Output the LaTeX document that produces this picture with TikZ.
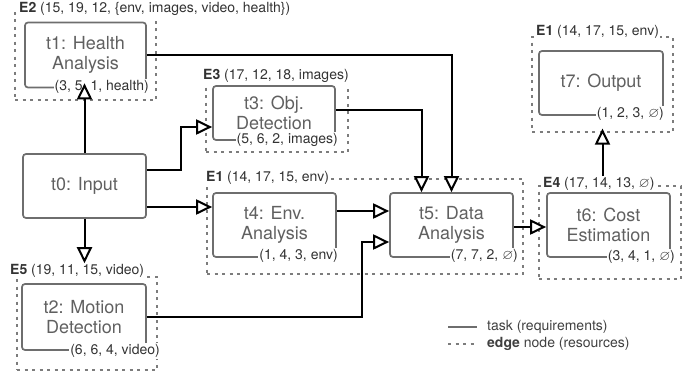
\documentclass[tikz,border=0pt]{standalone}
\usepackage{amssymb}
\usepackage{fontspec}
\setmainfont{TeX Gyre Heros}
\usetikzlibrary{arrows.meta}
\definecolor{taskgray}{HTML}{6E6E6E}
\definecolor{edgegray}{HTML}{7C7C7C}
\definecolor{txtgray}{HTML}{606060}
\tikzset{
  task/.style={draw=taskgray,line width=1.7pt,rounded corners=3pt,align=center,text=txtgray,
    font=\fontsize{18}{20}\selectfont,inner sep=0pt,minimum width=123pt,minimum height=64pt},
  edgenode/.style={draw=edgegray,line width=1.2pt,dash pattern=on 3pt off 4.5pt,inner sep=0pt},
  edgedash/.style={draw=edgegray,line width=1.2pt,dash pattern=on 3pt off 4.5pt},
  req/.style={fill=white,inner sep=1pt,text=black!80,font=\fontsize{14}{16}\selectfont,anchor=east},
  res/.style={fill=white,inner sep=1pt,text=black!80,font=\fontsize{14}{16}\selectfont,anchor=west},
  flow/.style={line width=2pt,-{Triangle[fill=white,length=16pt,width=15pt]}},
}
\begin{document}
\begin{tikzpicture}[x=1pt,y=-1pt]
  \useasboundingbox (0,0) rectangle (697,375);
  % edge nodes (resources)
  \node[edgenode,minimum width=141pt,minimum height=87pt] (e2) at (85.5,56.5) {};
  \node[edgenode,minimum width=142pt,minimum height=74pt] (e3) at (277,115) {};
  \node[edgenode,minimum width=316pt,minimum height=95pt] (e1) at (365,226.5) {};
  \node[edgenode,minimum width=142pt,minimum height=93pt] (e4) at (610,232.5) {};
  \node[edgenode,minimum width=141pt,minimum height=95pt] (e1t) at (602.5,84.5) {};
  \node[edgenode,minimum width=140pt,minimum height=93pt] (e5) at (87,323.5) {};
  % tasks (requirements)
  \node[task] (t0) at (84.5,186) {t0: Input};
  \node[task,minimum width=121pt,minimum height=65pt] (t1) at (85.5,55) {t1: Health\\Analysis};
  \node[task,minimum width=124pt,minimum height=66pt] (t2) at (84,317) {t2: Motion\\Detection};
  \node[task,minimum width=122pt,minimum height=54pt] (t3) at (274,113) {t3: Obj.\\Detection};
  \node[task] (t4) at (274.5,225) {t4: Env.\\Analysis};
  \node[task] (t5) at (451.5,225) {t5: Data\\Analysis};
  \node[task,minimum height=64pt] (t6) at (608.5,225) {t6: Cost\\Estimation};
  \node[task,minimum width=124pt,minimum height=64pt] (t7) at (601,83) {t7: Output};
  % requirement labels
  \node[req] (t1l) at (150,87) {(3, 5, 1, health)};
  \node[req] (t3l) at (339,140) {(5, 6, 2, images)};
  \node[req] (t4l) at (339,256) {(1, 4, 3, env)};
  \node[req] (t5l) at (519,256) {(7, 7, 2, $\varnothing$)};
  \node[req] (t6l) at (676,257) {(3, 4, 1, $\varnothing$)};
  \node[req] (t7l) at (665,114) {(1, 2, 3, $\varnothing$)};
  \node[req] (t2l) at (161,351) {(6, 6, 4, video)};
  % resource labels
  \node[res] (e2l) at (18,9) {\textbf{E2} (15, 19, 12, \{env, images, video, health\})};
  \node[res] (e3l) at (202,76) {\textbf{E3} (17, 12, 18, images)};
  \node[res] (e1l) at (205,178) {\textbf{E1} (14, 17, 15, env)};
  \node[res] (e4l) at (542,184) {\textbf{E4} (17, 14, 13, $\varnothing$)};
  \node[res] (e1tl) at (535,32) {\textbf{E1} (14, 17, 15, env)};
  \node[res] (e5l) at (9,271) {\textbf{E5} (19, 11, 15, video)};
  % flows
  \draw[flow,shorten >=-5pt] (t0.north) -- (t0.north |- t1.south);
  \draw[flow] (t0.south) -- (t0.south |- e5l.north);
  \draw[flow] ([yshift=16pt]t0.east) -- ++(34,0) |- ([yshift=-14pt]t3.west);
  \draw[flow] ([yshift=-21pt]t0.east) -- ([yshift=18pt]t4.west);
  \draw[flow] ([yshift=14pt]t4.east) -- ([yshift=14pt]t5.west);
  \draw[flow] (t2.east) -| ([xshift=-27pt,yshift=-17pt]t5.west) -- ([yshift=-17pt]t5.west);
  \draw[flow] (t1.east) -| (t5.north);
  \draw[flow] ([yshift=3pt]t3.east) -| ([xshift=-30pt]t5.north);
  \draw[flow] ([yshift=-2pt]t5.east) -- ([yshift=-2pt]t6.west);
  \draw[flow,shorten >=-4pt] (e1t.south |- e4l.north) -- (e1t.south);
  % legend
  \node[res,fill=none,text=black!75] (lg1) at (486,327) {task (requirements)};
  \node[res,fill=none,text=black!75] (lg2) at (486,344) {\textbf{edge} node (resources)};
  \draw[taskgray,line width=1.7pt] ([xshift=-38pt]lg1.west) -- ([xshift=-9pt]lg1.west);
  \draw[edgedash] ([xshift=-38pt]lg2.west) -- ([xshift=-9pt]lg2.west);
\end{tikzpicture}
\end{document}
